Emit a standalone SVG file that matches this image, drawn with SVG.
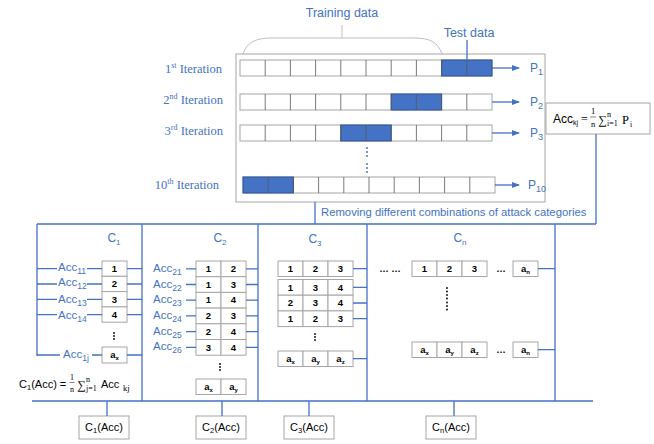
<svg xmlns="http://www.w3.org/2000/svg" width="654" height="444" viewBox="0 0 654 444">
<defs>
<style>
.bl{stroke:#4472C4;stroke-width:1.3;fill:none}
.gb{fill:#fff;stroke:#a6a6a6;stroke-width:1}
.cell{fill:#fff;stroke:#a6a6a6;stroke-width:1}
.blue{fill:#4472C4;stroke:#2F5597;stroke-width:1}
.div{stroke:#595959;stroke-width:0.8}
.it{font-family:"Liberation Serif",serif;font-size:12.5px;fill:#4472C4}
.lab{font-family:"Liberation Sans",Arial,sans-serif;font-size:11px;fill:#4472C4}
.num{font-family:"Liberation Sans",Arial,sans-serif;font-size:9.5px;font-weight:bold;fill:#000;text-anchor:middle}
.blk{font-family:"Liberation Sans",Arial,sans-serif;fill:#000}
.ser{font-family:"Liberation Serif",serif;fill:#000}
.dot{fill:#000}
.bdot{fill:#4472C4}
</style>
<marker id="ar" markerWidth="8" markerHeight="8" refX="7" refY="4" orient="auto" markerUnits="userSpaceOnUse">
<path d="M0,1 L8,4 L0,7 Z" fill="#4472C4"/>
</marker>
</defs>

<g id="training-label">
<text class="lab" x="342" y="17" text-anchor="middle" style="font-size:12.5px">Training data</text>
<path d="M342,25 L342,38" stroke="#bfbfbf" stroke-width="1"/>
<path d="M243,54 C247,42 256,38 272,38 L414,38 C430,38 438,42 442,54" fill="none" stroke="#bfbfbf" stroke-width="1"/>
</g>
<g id="test-label">
<text class="lab" x="469" y="37" text-anchor="middle" style="font-size:12.5px">Test data</text>
</g>
<g id="iteration-box">
<rect x="236" y="54" width="309" height="148" fill="#fff" stroke="#a6a6a6" stroke-width="1"/>
</g>
<line x1="467" y1="40" x2="467" y2="61" class="bl"/>

<g id="row1">
<rect class="cell" x="240" y="60" width="252" height="16"/>
<rect class="blue" x="441.6" y="60" width="50.4" height="16"/>
<path class="div" d="M265.2,60v16M290.4,60v16M315.6,60v16M340.8,60v16M366,60v16M391.2,60v16M416.4,60v16M441.6,60v16M466.8,60v16"/>
</g>
<g id="row2">
<rect class="cell" x="240" y="94" width="252" height="16"/>
<rect class="blue" x="391.2" y="94" width="50.4" height="16"/>
<path class="div" d="M265.2,94v16M290.4,94v16M315.6,94v16M340.8,94v16M366,94v16M391.2,94v16M416.4,94v16M441.6,94v16M466.8,94v16"/>
</g>
<g id="row3">
<rect class="cell" x="240" y="125" width="252" height="16"/>
<rect class="blue" x="340.8" y="125" width="50.4" height="16"/>
<path class="div" d="M265.2,125v16M290.4,125v16M315.6,125v16M340.8,125v16M366,125v16M391.2,125v16M416.4,125v16M441.6,125v16M466.8,125v16"/>
</g>
<g id="iter-dots">
<circle class="bdot" cx="367" cy="148" r="1"/><circle class="bdot" cx="367" cy="152" r="1"/><circle class="bdot" cx="367" cy="156" r="1"/>
<circle class="bdot" cx="367" cy="164" r="1"/><circle class="bdot" cx="367" cy="168" r="1"/><circle class="bdot" cx="367" cy="172" r="1"/>
</g>
<g id="row10">
<rect class="cell" x="243" y="177" width="252" height="16"/>
<rect class="blue" x="243" y="177" width="50.4" height="16"/>
<path class="div" d="M268.2,177v16M293.4,177v16M318.6,177v16M343.8,177v16M369,177v16M394.2,177v16M419.4,177v16M444.6,177v16M469.8,177v16"/>
</g>

<g id="iter-labels">
<text class="it" x="222" y="73" text-anchor="end">1<tspan font-size="8" dy="-5">st</tspan><tspan dy="5"> Iteration</tspan></text>
<text class="it" x="223" y="104" text-anchor="end">2<tspan font-size="8" dy="-5">nd</tspan><tspan dy="5">  Iteration</tspan></text>
<text class="it" x="223" y="135" text-anchor="end">3<tspan font-size="8" dy="-5">rd</tspan><tspan dy="5">  Iteration</tspan></text>
<text class="it" x="219" y="189" text-anchor="end">10<tspan font-size="8" dy="-5">th</tspan><tspan dy="5">  Iteration</tspan></text>
</g>

<g id="p-labels">
<text class="lab" x="530" y="72" style="font-size:12px">P<tspan font-size="9" dy="3">1</tspan></text>
<text class="lab" x="530" y="106" style="font-size:12px">P<tspan font-size="9" dy="3">2</tspan></text>
<text class="lab" x="530" y="137" style="font-size:12px">P<tspan font-size="9" dy="3">3</tspan></text>
<text class="lab" x="528" y="189" style="font-size:12px">P<tspan font-size="9" dy="3">10</tspan></text>
</g>

<g id="acckj">
<rect class="gb" x="546" y="103" width="104" height="31"/>
<text class="blk" x="553" y="123" style="font-size:12px">Acc<tspan font-size="7" dy="2">kj</tspan></text>
<text class="ser" x="581" y="123" style="font-size:12px">=</text>
<text class="ser" x="593" y="114" style="font-size:8.5px" text-anchor="middle">1</text>
<line x1="590" y1="117" x2="596" y2="117" stroke="#000" stroke-width="0.5"/>
<text class="ser" x="593" y="127" style="font-size:8.5px" text-anchor="middle">n</text>
<text class="ser" x="598" y="124" style="font-size:12px">∑</text>
<text class="ser" x="607" y="117" style="font-size:8px">n</text>
<text class="ser" x="607" y="126" style="font-size:8px">i=1</text>
<text class="ser" x="622" y="124" style="font-size:12.5px">P</text>
<text class="ser" x="630" y="127" style="font-size:8px">i</text>
</g>

<g id="removing-label">
<text class="lab" x="321" y="216" style="font-size:11.3px">Removing different combinations of attack categories</text>
</g>

<g id="c1">
<text class="lab" x="114" y="242" text-anchor="middle" style="font-size:12px">C<tspan font-size="8" dy="3">1</tspan></text>
<rect class="cell" x="102" y="261" width="25" height="15.3"/>
<rect class="cell" x="102" y="276.3" width="25" height="15.3"/>
<rect class="cell" x="102" y="291.6" width="25" height="15.3"/>
<rect class="cell" x="102" y="306.9" width="25" height="15.3"/>
<text class="num" x="114.5" y="272">1</text>
<text class="num" x="114.5" y="287.3">2</text>
<text class="num" x="114.5" y="302.6">3</text>
<text class="num" x="114.5" y="317.9">4</text>
<circle class="dot" cx="114" cy="333" r="0.9"/><circle class="dot" cx="114" cy="336" r="0.9"/><circle class="dot" cx="114" cy="339" r="0.9"/>
<rect class="cell" x="102" y="347" width="25" height="16"/>
<text class="num" x="114.5" y="358">a<tspan font-size="6" dy="2">x</tspan></text>
<text class="lab" x="58" y="271" style="font-size:11.5px">Acc<tspan font-size="8.5" dy="3">11</tspan></text>
<text class="lab" x="58" y="286" style="font-size:11.5px">Acc<tspan font-size="8.5" dy="3">12</tspan></text>
<text class="lab" x="58" y="303" style="font-size:11.5px">Acc<tspan font-size="8.5" dy="3">13</tspan></text>
<text class="lab" x="58" y="319" style="font-size:11.5px">Acc<tspan font-size="8.5" dy="3">14</tspan></text>
<text class="lab" x="63" y="358" style="font-size:11.5px">Acc<tspan font-size="8.5" dy="3">1j</tspan></text>
</g>
<g id="c1-formula">
<text class="blk" x="19" y="388" style="font-size:11px">C<tspan font-size="7.5" dy="2">1</tspan><tspan dy="-2">(Acc) =</tspan></text>
<text class="ser" x="72" y="380" style="font-size:8px" text-anchor="middle">1</text>
<line x1="69.5" y1="382.5" x2="74.5" y2="382.5" stroke="#000" stroke-width="0.5"/>
<text class="ser" x="72" y="392" style="font-size:8px" text-anchor="middle">n</text>
<text class="ser" x="77" y="389" style="font-size:12px">∑</text>
<text class="ser" x="86" y="382" style="font-size:8px">n</text>
<text class="ser" x="86" y="391" style="font-size:8px">j=1</text>
<text class="blk" x="101" y="388" style="font-size:11px">Acc</text>
<text class="ser" x="123" y="391" style="font-size:8.5px">kj</text>
</g>

<g id="c2">
<text class="lab" x="220" y="242" text-anchor="middle" style="font-size:12px">C<tspan font-size="8" dy="3">2</tspan></text>
<g>
<rect class="cell" x="196" y="261" width="25" height="15.7"/><rect class="cell" x="221" y="261" width="25" height="15.7"/>
<rect class="cell" x="196" y="276.7" width="25" height="15.7"/><rect class="cell" x="221" y="276.7" width="25" height="15.7"/>
<rect class="cell" x="196" y="292.4" width="25" height="15.7"/><rect class="cell" x="221" y="292.4" width="25" height="15.7"/>
<rect class="cell" x="196" y="308.1" width="25" height="15.7"/><rect class="cell" x="221" y="308.1" width="25" height="15.7"/>
<rect class="cell" x="196" y="323.8" width="25" height="15.7"/><rect class="cell" x="221" y="323.8" width="25" height="15.7"/>
<rect class="cell" x="196" y="339.5" width="25" height="15.7"/><rect class="cell" x="221" y="339.5" width="25" height="15.7"/>
</g>
<text class="num" x="208.5" y="272">1</text><text class="num" x="233.5" y="272">2</text>
<text class="num" x="208.5" y="287.7">1</text><text class="num" x="233.5" y="287.7">3</text>
<text class="num" x="208.5" y="303.4">1</text><text class="num" x="233.5" y="303.4">4</text>
<text class="num" x="208.5" y="319.1">2</text><text class="num" x="233.5" y="319.1">3</text>
<text class="num" x="208.5" y="334.8">2</text><text class="num" x="233.5" y="334.8">4</text>
<text class="num" x="208.5" y="350.5">3</text><text class="num" x="233.5" y="350.5">4</text>
<circle class="dot" cx="220" cy="364" r="0.9"/><circle class="dot" cx="220" cy="367" r="0.9"/><circle class="dot" cx="220" cy="370" r="0.9"/>
<rect class="cell" x="196" y="379" width="25" height="15.5"/><rect class="cell" x="221" y="379" width="25" height="15.5"/>
<text class="num" x="208.5" y="390">a<tspan font-size="6" dy="2">x</tspan></text>
<text class="num" x="233.5" y="390">a<tspan font-size="6" dy="2">y</tspan></text>
<text class="lab" x="153" y="272" style="font-size:11.5px">Acc<tspan font-size="8.5" dy="3">21</tspan></text>
<text class="lab" x="153" y="288" style="font-size:11.5px">Acc<tspan font-size="8.5" dy="3">22</tspan></text>
<text class="lab" x="153" y="303" style="font-size:11.5px">Acc<tspan font-size="8.5" dy="3">23</tspan></text>
<text class="lab" x="153" y="319" style="font-size:11.5px">Acc<tspan font-size="8.5" dy="3">24</tspan></text>
<text class="lab" x="153" y="335" style="font-size:11.5px">Acc<tspan font-size="8.5" dy="3">25</tspan></text>
<text class="lab" x="153" y="350" style="font-size:11.5px">Acc<tspan font-size="8.5" dy="3">26</tspan></text>
</g>

<g id="c3">
<text class="lab" x="315" y="243" text-anchor="middle" style="font-size:12px">C<tspan font-size="8" dy="3">3</tspan></text>
<rect class="cell" x="278" y="261" width="25" height="15.5"/><rect class="cell" x="303" y="261" width="25" height="15.5"/><rect class="cell" x="328" y="261" width="25" height="15.5"/>
<rect class="cell" x="278" y="279.5" width="25" height="15.7"/><rect class="cell" x="303" y="279.5" width="25" height="15.7"/><rect class="cell" x="328" y="279.5" width="25" height="15.7"/>
<rect class="cell" x="278" y="295.2" width="25" height="15.7"/><rect class="cell" x="303" y="295.2" width="25" height="15.7"/><rect class="cell" x="328" y="295.2" width="25" height="15.7"/>
<rect class="cell" x="278" y="310.9" width="25" height="15.7"/><rect class="cell" x="303" y="310.9" width="25" height="15.7"/><rect class="cell" x="328" y="310.9" width="25" height="15.7"/>
<text class="num" x="290.5" y="272">1</text><text class="num" x="315.5" y="272">2</text><text class="num" x="340.5" y="272">3</text>
<text class="num" x="290.5" y="290.5">1</text><text class="num" x="315.5" y="290.5">3</text><text class="num" x="340.5" y="290.5">4</text>
<text class="num" x="290.5" y="306.2">2</text><text class="num" x="315.5" y="306.2">3</text><text class="num" x="340.5" y="306.2">4</text>
<text class="num" x="290.5" y="321.9">1</text><text class="num" x="315.5" y="321.9">2</text><text class="num" x="340.5" y="321.9">3</text>
<circle class="dot" cx="315" cy="334" r="0.9"/><circle class="dot" cx="315" cy="337" r="0.9"/><circle class="dot" cx="315" cy="340" r="0.9"/>
<rect class="cell" x="278" y="351" width="25" height="15.5"/><rect class="cell" x="303" y="351" width="25" height="15.5"/><rect class="cell" x="328" y="351" width="25" height="15.5"/>
<text class="num" x="290.5" y="362">a<tspan font-size="6" dy="2">x</tspan></text>
<text class="num" x="315.5" y="362">a<tspan font-size="6" dy="2">y</tspan></text>
<text class="num" x="340.5" y="362">a<tspan font-size="6" dy="2">z</tspan></text>
</g>

<g id="cn">
<text class="lab" x="460" y="242" text-anchor="middle" style="font-size:12px">C<tspan font-size="8" dy="3">n</tspan></text>
<text class="num" x="390" y="272">… …</text>
<rect class="cell" x="412" y="261" width="25" height="15.5"/><rect class="cell" x="437" y="261" width="25" height="15.5"/><rect class="cell" x="462" y="261" width="25" height="15.5"/>
<text class="num" x="424.5" y="272">1</text><text class="num" x="449.5" y="272">2</text><text class="num" x="474.5" y="272">3</text>
<text class="num" x="501" y="272">…</text>
<rect class="cell" x="513" y="261" width="25" height="15.5"/>
<text class="num" x="525.5" y="272">a<tspan font-size="6" dy="2">n</tspan></text>
<circle class="dot" cx="447" cy="288" r="0.9"/><circle class="dot" cx="447" cy="291.5" r="0.9"/><circle class="dot" cx="447" cy="295" r="0.9"/><circle class="dot" cx="447" cy="298.5" r="0.9"/>
<circle class="dot" cx="447" cy="302.5" r="0.9"/><circle class="dot" cx="447" cy="306" r="0.9"/><circle class="dot" cx="447" cy="309.5" r="0.9"/>
<rect class="cell" x="412" y="342" width="25" height="15.5"/><rect class="cell" x="437" y="342" width="25" height="15.5"/><rect class="cell" x="462" y="342" width="25" height="15.5"/>
<text class="num" x="424.5" y="353">a<tspan font-size="6" dy="2">x</tspan></text>
<text class="num" x="449.5" y="353">a<tspan font-size="6" dy="2">y</tspan></text>
<text class="num" x="474.5" y="353">a<tspan font-size="6" dy="2">z</tspan></text>
<text class="num" x="501" y="353">…</text>
<rect class="cell" x="513" y="342" width="25" height="15.5"/>
<text class="num" x="525.5" y="353">a<tspan font-size="6" dy="2">n</tspan></text>
</g>

<g id="c1acc"><rect class="gb" x="79" y="416" width="50" height="23"/><text class="blk" x="104" y="431" text-anchor="middle" style="font-size:11px">C<tspan font-size="7.5" dy="2">1</tspan><tspan dy="-2">(Acc)</tspan></text></g>
<g id="c2acc"><rect class="gb" x="196" y="416" width="50" height="23"/><text class="blk" x="221" y="431" text-anchor="middle" style="font-size:11px">C<tspan font-size="7.5" dy="2">2</tspan><tspan dy="-2">(Acc)</tspan></text></g>
<g id="c3acc"><rect class="gb" x="284" y="416" width="50" height="23"/><text class="blk" x="309" y="431" text-anchor="middle" style="font-size:11px">C<tspan font-size="7.5" dy="2">3</tspan><tspan dy="-2">(Acc)</tspan></text></g>
<g id="cnacc"><rect class="gb" x="426" y="416" width="50" height="23"/><text class="blk" x="451" y="431" text-anchor="middle" style="font-size:11px">C<tspan font-size="7.5" dy="2">n</tspan><tspan dy="-2">(Acc)</tspan></text></g>

<g id="connectors">
<line class="bl" x1="492" y1="68" x2="519" y2="68" marker-end="url(#ar)"/>
<line class="bl" x1="492" y1="102" x2="519" y2="102" marker-end="url(#ar)"/>
<line class="bl" x1="492" y1="133" x2="519" y2="133" marker-end="url(#ar)"/>
<line class="bl" x1="495" y1="185" x2="519" y2="185" marker-end="url(#ar)"/>
<path class="bl" d="M596,134 V224 M315,202 V224 M37,224 H596"/>
<path class="bl" d="M37,224 V356 M142,224 V401 M258,224 V401 M367,224 V401 M555,224 V401"/>
<path class="bl" d="M32,401 H593 M107,401 V416 M222,401 V416 M309,401 V416 M454,401 V416"/>
<path class="bl" d="M37,268.6 H57 M87,268.6 H102 M127,268.6 H142 M37,284 H57 M87,284 H102 M127,284 H142 M37,299.3 H57 M87,299.3 H102 M127,299.3 H142 M37,314.6 H57 M87,314.6 H102 M127,314.6 H142 M37,355 H60 M92,355 H102 M127,355 H142"/>
<path class="bl" d="M186,268.8 H196 M246,268.8 H258 M186,284.5 H196 M246,284.5 H258 M186,300.2 H196 M246,300.2 H258 M186,315.9 H196 M246,315.9 H258 M186,331.6 H196 M246,331.6 H258 M186,347.3 H196 M246,347.3 H258"/>
<path class="bl" d="M353,268.7 H367 M353,287.3 H367 M353,303 H367 M353,318.7 H367 M353,358.7 H367"/>
<path class="bl" d="M538,268.7 H555 M538,349.7 H555"/>
</g>
</svg>
